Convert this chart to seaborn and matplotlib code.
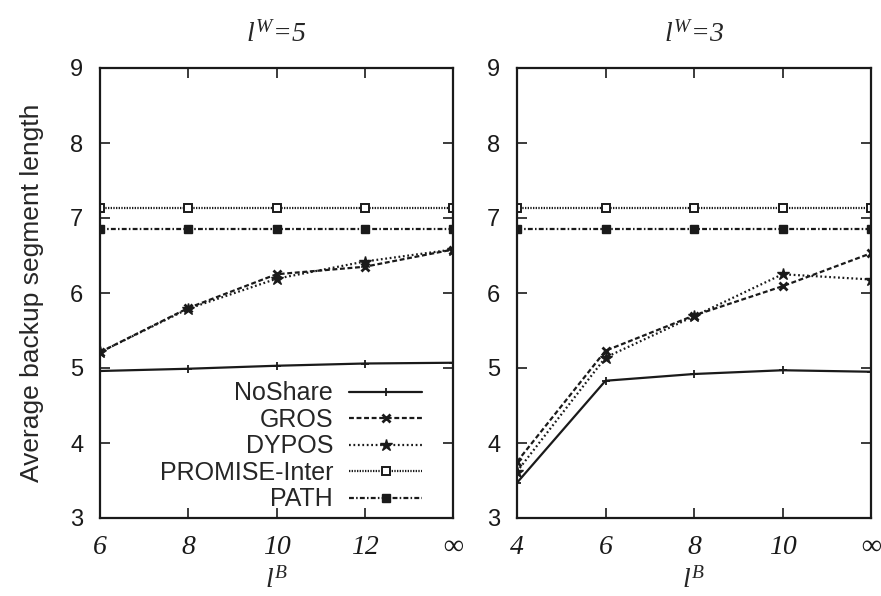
import matplotlib
matplotlib.use("Agg")
import matplotlib.pyplot as plt
import seaborn as sns
import numpy as np

# ---- data ----
left_xlabels = ["6", "8", "10", "12", "\u221e"]
right_xlabels = ["4", "6", "8", "10", "\u221e"]

left_noshare = [4.96, 4.99, 5.03, 5.06, 5.07]
left_gros = [5.21, 5.80, 6.25, 6.35, 6.58]
left_dypos = [5.21, 5.79, 6.19, 6.42, 6.58]
left_promise = [7.13, 7.13, 7.13, 7.13, 7.13]
left_path = [6.86, 6.86, 6.86, 6.86, 6.86]

right_noshare = [3.47, 4.83, 4.92, 4.97, 4.95]
right_gros = [3.75, 5.23, 5.70, 6.09, 6.53]
right_dypos = [3.62, 5.14, 5.69, 6.25, 6.18]
right_promise = [7.13, 7.13, 7.13, 7.13, 7.13]
right_path = [6.86, 6.86, 6.86, 6.86, 6.86]

series_names = ["NoShare", "GROS", "DYPOS", "PROMISE-Inter", "PATH"]

sns.set_theme(style="ticks")
plt.rcParams["font.family"] = ["Liberation Sans", "DejaVu Sans"]
plt.rcParams["mathtext.fontset"] = "custom"
plt.rcParams["mathtext.it"] = "Liberation Serif:italic"
plt.rcParams["mathtext.rm"] = "Liberation Serif:italic"

C = "#1a1a1a"
styles = [
    dict(marker="+", ms=6, mew=1.3, linestyle="-"),
    dict(marker="x", ms=6, mew=2.0, linestyle=(0, (2.2, 1.2))),
    dict(marker="*", ms=9, mew=1.0, linestyle=(0, (0.8, 1.2))),
    dict(marker="s", ms=6, mew=1.4, mfc="white", linestyle=(0, (0.6, 0.6))),
    dict(marker="s", ms=6, mew=1.0, linestyle=(0, (2.2, 1.0, 0.7, 1.0))),
]

fig = plt.figure(figsize=(8.81, 5.96), dpi=100)
ax1 = fig.add_axes([100 / 881, 78 / 596, 353 / 881, 450 / 596])
ax2 = fig.add_axes([517 / 881, 78 / 596, 354 / 881, 450 / 596])

panels = [
    (ax1, left_xlabels, [left_noshare, left_gros, left_dypos, left_promise, left_path], "5"),
    (ax2, right_xlabels, [right_noshare, right_gros, right_dypos, right_promise, right_path], "3"),
]

xpos = np.arange(5)
for ax, xl, data, w in panels:
    for name, vals, st in zip(series_names, data, styles):
        sns.lineplot(x=xpos, y=vals, ax=ax, color=C, lw=1.6, mec=C,
                     label=name, legend=False, **st)
    ax.set_xlim(0, 4)
    ax.set_ylim(3, 9)
    ax.set_xticks(xpos)
    ax.set_xticklabels(xl, fontsize=20, family=["Liberation Serif", "DejaVu Serif"], style="italic")
    ax.set_yticks(range(3, 10))
    ax.set_yticklabels([str(v) for v in range(3, 10)], fontsize=17)
    ax.tick_params(direction="in", length=7, width=1.2, top=True, right=True, colors=C)
    ax.tick_params(axis="y", pad=12)
    ax.tick_params(axis="x", pad=12)
    for s in ax.spines.values():
        s.set_linewidth(1.6)
        s.set_color(C)
        s.set_visible(True)
    ax.set_title(r"$l^{W}$=" + w, fontsize=20, family="Liberation Serif", style="italic", pad=19)
    ax.set_xlabel(r"$l^{B}$", fontsize=20, labelpad=5)
    ax.set_ylabel("")

ax1.set_ylabel("Average backup segment length", fontsize=19, labelpad=19)

leg = ax1.legend(loc="lower right", bbox_to_anchor=(0.912, 0.015), frameon=False,
                 markerfirst=False, fontsize=18, handlelength=2.9, handletextpad=0.65,
                 labelspacing=0.1, borderpad=0, borderaxespad=0)

fig.savefig("out.png", dpi=100)
